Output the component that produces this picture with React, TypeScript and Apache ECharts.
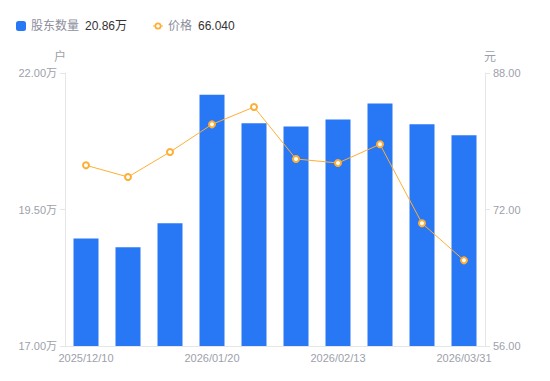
import React, { useEffect, useRef } from "react";
import * as echarts from "echarts";

const categories = [
  "2025/12/10",
  "2025/12/20",
  "2025/12/31",
  "2026/01/20",
  "2026/01/31",
  "2026/02/10",
  "2026/02/13",
  "2026/02/28",
  "2026/03/10",
  "2026/03/31",
];
// 股东数量 (万户)
const holders = [18.97, 18.81, 19.25, 21.6, 21.08, 21.02, 21.15, 21.44, 21.06, 20.86];
// 价格 (元)
const prices = [77.18, 75.81, 78.74, 81.98, 84.01, 77.92, 77.45, 79.64, 70.38, 66.04];
const leftTicks = [17, 19.5, 22];
const rightTicks = [56, 72, 88];

const BLUE = "#2878F5";
const ORANGE = "#FFAE34";
const AXIS_LABEL = "#9d9fab";
const AXIS_LINE = "#e6e6e9";

const PRICE_ICON =
  "path://M0,4.4H1.6V5.6H0Z M8.4,4.4H10V5.6H8.4Z " +
  "M1.5,5A3.5,3.5 0 1,1 8.5,5A3.5,3.5 0 1,1 1.5,5Z " +
  "M3.2,5A1.8,1.8 0 1,0 6.8,5A1.8,1.8 0 1,0 3.2,5Z";

export default function App() {
  const ref = useRef<HTMLDivElement>(null);
  useEffect(() => {
    document.body.style.margin = "0";
    if (!ref.current) return;
    const chart = echarts.init(ref.current, undefined, { renderer: "svg" });
    const lastHolder = holders[holders.length - 1];
    const lastPrice = prices[prices.length - 1];
    const font = "'Liberation Sans', Arial, 'Noto Sans CJK SC', sans-serif";
    const rich = {
      n: { color: "#8c8e9c", fontSize: 12, padding: [0, 6, 0, 0], fontFamily: font },
      v: { color: "#333333", fontSize: 12, fontFamily: font },
    };
    chart.setOption({
      animation: false,
      textStyle: { fontFamily: font },
      legend: [
        {
          left: 11,
          top: 15,
          icon: "roundRect",
          itemWidth: 10,
          itemHeight: 10,
          data: ["股东数量"],
          formatter: (name: string) => `{n|${name}}{v|${lastHolder.toFixed(2)}万}`,
          textStyle: { rich },
        },
        {
          left: 148,
          top: 15,
          itemWidth: 10,
          itemHeight: 10,
          data: [
            {
              name: "价格",
              icon: PRICE_ICON,
              itemStyle: { color: ORANGE, borderWidth: 0 },
            },
          ],
          formatter: (name: string) => `{n|${name}}{v|${lastPrice.toFixed(3)}}`,
          textStyle: { rich },
        },
      ],
      grid: { left: 65, right: 65, top: 73, bottom: 35, containLabel: false },
      xAxis: {
        type: "category",
        data: categories,
        axisLine: { show: true, lineStyle: { color: AXIS_LINE } },
        axisTick: { show: false },
        axisLabel: { interval: 2, color: AXIS_LABEL, fontSize: 11, margin: 6 },
        splitLine: { show: false },
      },
      yAxis: [
        {
          type: "value",
          name: "户",
          nameGap: 10,
          nameTextStyle: { color: AXIS_LABEL, fontSize: 12, align: "center", padding: [0, 10, 0, 0] },
          min: 17,
          max: 22,
          axisLine: { show: true, lineStyle: { color: AXIS_LINE } },
          axisTick: { show: true, length: 5, lineStyle: { color: AXIS_LINE }, customValues: leftTicks },
          axisLabel: {
            color: AXIS_LABEL,
            fontSize: 11,
            margin: 8,
            customValues: leftTicks,
            formatter: (v: number) => `${v.toFixed(2)}万`,
          },
          splitLine: { show: false },
        },
        {
          type: "value",
          name: "元",
          nameGap: 10,
          nameTextStyle: { color: AXIS_LABEL, fontSize: 12, align: "center", padding: [0, 0, 0, 10] },
          min: 56,
          max: 88,
          position: "right",
          axisLine: { show: true, lineStyle: { color: AXIS_LINE } },
          axisTick: { show: true, length: 5, lineStyle: { color: AXIS_LINE }, customValues: rightTicks },
          axisLabel: {
            color: AXIS_LABEL,
            fontSize: 11,
            margin: 8,
            customValues: rightTicks,
            formatter: (v: number) => v.toFixed(2),
          },
          splitLine: { show: false },
        },
      ],
      series: [
        {
          name: "股东数量",
          type: "bar",
          yAxisIndex: 0,
          data: holders,
          barWidth: 25,
          itemStyle: { color: BLUE },
        },
        {
          name: "价格",
          type: "line",
          yAxisIndex: 1,
          data: prices,
          symbol: "emptyCircle",
          symbolSize: 6,
          lineStyle: { color: ORANGE, width: 1 },
          itemStyle: { color: ORANGE, borderColor: ORANGE, borderWidth: 2 },
        },
      ],
    });
    return () => chart.dispose();
  }, []);
  return <div ref={ref} style={{ width: 550, height: 381 }} />;
}
